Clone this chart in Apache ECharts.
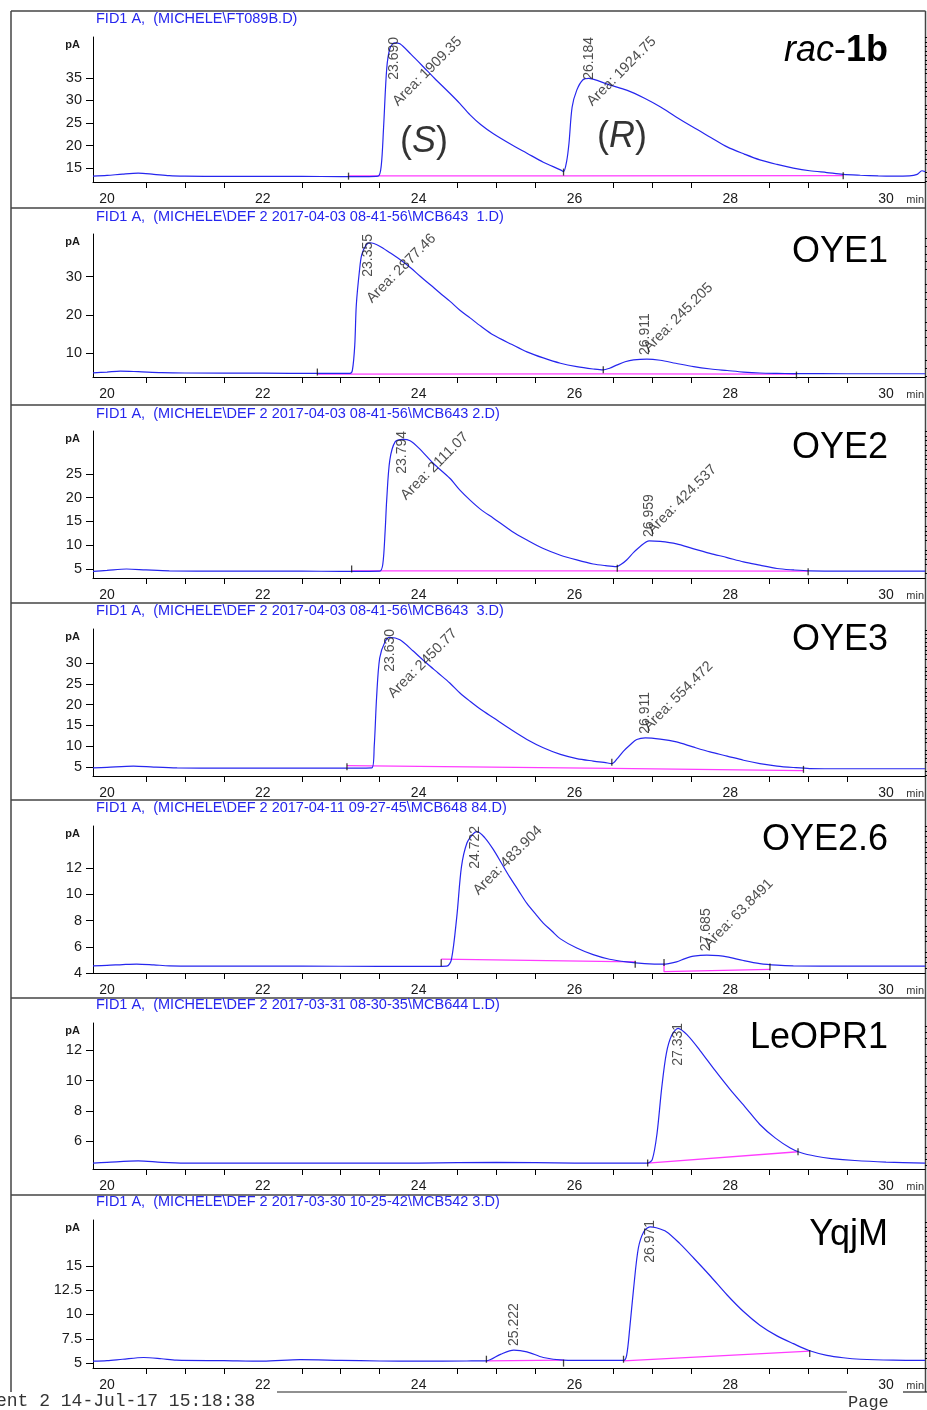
<!DOCTYPE html>
<html>
<head>
<meta charset="utf-8">
<title>GC traces</title>
<script src="https://cdn.jsdelivr.net/npm/echarts@6/dist/echarts.min.js"></script>
<style>
  html, body { margin: 0; padding: 0; background: #fff; }
  #main { width: 927px; height: 1410px; }
</style>
</head>
<body>
<div id="main"></div>
<script>
// ---- data ----
const xLabels = [20, 22, 24, 26, 28, 30];
const xMinorTicks = [20.5, 21, 21.5, 22.5, 23, 23.5, 24.5, 25, 25.5, 26.5, 27, 27.5, 28.5, 29, 29.5];

const panelNames = ['{i|rac}-{b|1b}', 'OYE1', 'OYE2', 'OYE3', 'OYE2.6', 'LeOPR1', 'YqjM'];
const fileTitles = [
  'FID1 A,  (MICHELE\\FT089B.D)',
  'FID1 A,  (MICHELE\\DEF 2 2017-04-03 08-41-56\\MCB643  1.D)',
  'FID1 A,  (MICHELE\\DEF 2 2017-04-03 08-41-56\\MCB643 2.D)',
  'FID1 A,  (MICHELE\\DEF 2 2017-04-03 08-41-56\\MCB643  3.D)',
  'FID1 A,  (MICHELE\\DEF 2 2017-04-11 09-27-45\\MCB648 84.D)',
  'FID1 A,  (MICHELE\\DEF 2 2017-03-31 08-30-35\\MCB644 L.D)',
  'FID1 A,  (MICHELE\\DEF 2 2017-03-30 10-25-42\\MCB542 3.D)'
];

const yLabels = [
  [15, 20, 25, 30, 35],
  [10, 20, 30],
  [5, 10, 15, 20, 25],
  [5, 10, 15, 20, 25, 30],
  [4, 6, 8, 10, 12],
  [6, 8, 10, 12],
  [5, 7.5, 10, 12.5, 15]
];
const yMinorStep = [1, 2, 1, 1, 0.4, 0.4, 0.5];
const yMin = [11.9, 3.7, 3.1, 2.8, 4.0, 4.16, 4.5];
const yMax = [44.1, 41.2, 34.05, 38.2, 15.2, 13.8, 19.7];
const xMin = 19.82, xMax = 30.5;

const traceRac1b = [[19.82,13.2],[20.0,13.35],[20.2,13.65],[20.4,13.85],[20.6,13.6],[20.8,13.3],[21.0,13.2],[21.5,13.15],[22.0,13.15],[22.5,13.15],[23.0,13.1],[23.3,13.1],[23.48,13.2],[23.52,15.5],[23.55,24],[23.59,37],[23.63,41.5],[23.69,42.8],[23.76,42.6],[23.9,40.3],[24.06,37.5],[24.2,35.0],[24.4,31.6],[24.53,29.3],[24.66,26.8],[24.8,24.6],[24.96,22.6],[25.2,20.1],[25.39,18.3],[25.6,16.3],[25.82,14.6],[25.86,14.2],[25.9,16.5],[25.93,20.5],[25.97,28.5],[26.03,32.3],[26.11,34.6],[26.184,34.9],[26.3,34.4],[26.46,33.4],[26.67,32.3],[26.9,30.5],[27.1,28.6],[27.3,26.4],[27.52,24.1],[27.75,21.8],[27.96,19.7],[28.18,18.1],[28.38,16.8],[28.6,15.8],[28.81,15.0],[29.02,14.4],[29.24,14.0],[29.45,13.6],[29.67,13.4],[29.9,13.25],[30.09,13.2],[30.3,13.25],[30.4,13.6],[30.46,14.4],[30.5,14.2]];
const traceOYE1 = [[19.82,4.8],[20.0,5.0],[20.17,5.25],[20.4,5.1],[20.7,4.85],[21.0,4.75],[22.0,4.7],[22.7,4.65],[23.12,4.65],[23.15,5.5],[23.18,12],[23.2,22.6],[23.24,31.5],[23.27,35.8],[23.33,38.4],[23.38,38.9],[23.5,38.0],[23.63,36.3],[23.76,34.5],[23.9,32.3],[24.02,30.1],[24.15,27.9],[24.27,25.8],[24.4,23.6],[24.53,21.2],[24.66,19.2],[24.8,17.0],[24.96,14.7],[25.2,12.2],[25.39,10.3],[25.6,8.7],[25.82,7.3],[26.03,6.4],[26.24,5.8],[26.37,5.55],[26.45,6.0],[26.54,6.8],[26.65,7.7],[26.76,8.2],[26.93,8.4],[27.1,8.1],[27.3,7.3],[27.53,6.4],[27.75,5.8],[27.96,5.4],[28.17,5.0],[28.38,4.75],[28.6,4.65],[28.81,4.6],[29.5,4.55],[30.5,4.55]];
const traceOYE2 = [[19.82,4.5],[20.0,4.7],[20.25,5.0],[20.5,4.8],[20.8,4.6],[21.5,4.55],[22.5,4.55],[23.0,4.5],[23.5,4.55],[23.54,6],[23.57,13],[23.59,19.5],[23.63,27.9],[23.7,31.8],[23.8,32.3],[23.89,32.0],[24.0,30.5],[24.19,27.2],[24.4,24.1],[24.53,21.6],[24.66,19.5],[24.8,17.5],[24.96,15.7],[25.2,12.9],[25.39,11.1],[25.6,9.3],[25.82,7.9],[26.03,6.9],[26.24,6.05],[26.4,5.7],[26.54,5.5],[26.6,6.0],[26.67,6.9],[26.76,8.5],[26.84,9.7],[26.96,10.9],[27.1,10.8],[27.31,10.3],[27.52,9.3],[27.74,8.3],[27.96,7.4],[28.17,6.5],[28.38,5.8],[28.6,5.1],[28.81,4.8],[29.02,4.6],[29.5,4.55],[30.5,4.55]];
const traceOYE3 = [[19.82,4.75],[20.0,4.9],[20.34,5.2],[20.6,4.95],[20.9,4.75],[21.5,4.7],[22.5,4.7],[23.0,4.7],[23.4,4.75],[23.43,10],[23.46,21.6],[23.5,31.2],[23.57,35.2],[23.63,36.2],[23.76,35.6],[23.93,32.9],[24.1,30.0],[24.25,27.6],[24.4,25.2],[24.53,22.8],[24.66,20.8],[24.8,18.8],[24.96,16.8],[25.2,13.8],[25.39,11.6],[25.6,9.6],[25.82,8.0],[26.03,7.0],[26.24,6.4],[26.4,6.0],[26.48,5.8],[26.55,7.0],[26.63,8.8],[26.72,10.4],[26.8,11.6],[26.91,12.0],[27.1,11.7],[27.31,11.0],[27.52,9.8],[27.74,8.6],[27.96,7.6],[28.17,6.6],[28.38,5.8],[28.6,5.2],[28.81,4.85],[29.02,4.6],[29.5,4.55],[30.5,4.55]];
const traceOYE26 = [[19.82,4.55],[20.0,4.58],[20.2,4.64],[20.38,4.68],[20.6,4.62],[20.8,4.55],[21.5,4.52],[22.5,4.53],[23.5,4.5],[24.2,4.5],[24.36,4.52],[24.42,5.0],[24.49,8.3],[24.55,12.1],[24.62,13.9],[24.7,14.6],[24.75,14.77],[24.85,14.3],[24.96,13.4],[25.07,12.3],[25.17,11.3],[25.28,10.3],[25.39,9.3],[25.5,8.5],[25.6,7.8],[25.71,7.2],[25.82,6.6],[26.03,5.9],[26.24,5.4],[26.45,5.05],[26.67,4.85],[26.9,4.72],[27.14,4.67],[27.31,4.85],[27.42,5.1],[27.53,5.28],[27.7,5.36],[27.85,5.32],[27.96,5.23],[28.17,4.95],[28.38,4.72],[28.6,4.6],[28.81,4.55],[29.5,4.52],[30.5,4.52]];
const traceLeOPR1 = [[19.82,4.55],[20.0,4.6],[20.4,4.7],[20.7,4.6],[21.0,4.55],[22.0,4.55],[23.0,4.55],[24.0,4.55],[25.0,4.6],[26.0,4.55],[26.94,4.55],[27.0,4.8],[27.06,6.5],[27.12,9.5],[27.18,11.8],[27.25,13.0],[27.331,13.45],[27.45,13.0],[27.61,12.0],[27.8,10.7],[28.0,9.4],[28.2,8.2],[28.38,7.1],[28.58,6.2],[28.77,5.55],[28.9,5.25],[29.1,5.0],[29.3,4.85],[29.6,4.72],[30.0,4.62],[30.5,4.55]];
const traceYqjM = [[19.82,5.2],[20.0,5.25],[20.2,5.4],[20.47,5.58],[20.7,5.45],[20.89,5.3],[21.5,5.25],[22.0,5.2],[22.48,5.35],[23.0,5.28],[23.5,5.22],[24.0,5.2],[24.62,5.22],[24.87,5.24],[25.05,5.9],[25.222,6.34],[25.39,6.16],[25.6,5.58],[25.86,5.31],[26.2,5.28],[26.63,5.28],[26.67,5.8],[26.71,8.6],[26.76,12.7],[26.82,16.8],[26.89,18.5],[26.97,19.0],[27.05,18.9],[27.18,18.5],[27.35,17.3],[27.53,15.8],[27.75,13.9],[27.96,12.0],[28.17,10.3],[28.38,8.9],[28.6,7.8],[28.81,7.0],[29.02,6.27],[29.24,5.8],[29.45,5.55],[29.67,5.4],[30.09,5.3],[30.5,5.28]];

// integration baselines (pink) and peak start/end marks
const baseRac1b = [[[23.10,13.25],[25.86,13.25]], [[25.86,13.25],[29.45,13.3]]];
const baseOYE1 = [[[22.70,4.45],[26.37,4.5]], [[26.37,4.5],[28.85,4.45]]];
const baseOYE2 = [[[23.14,4.6],[26.55,4.58]], [[26.55,4.58],[29.0,4.55]]];
const baseOYE3 = [[[23.08,5.3],[26.48,4.65]], [[26.48,4.65],[28.94,4.1]]];
const baseOYE26 = [[[24.29,5.05],[26.78,4.85]], [[27.15,4.75],[27.15,4.1],[28.51,4.27]]];
const baseLeOPR1 = [[[26.94,4.55],[28.87,5.3]]];
const baseYqjM = [[[24.87,5.24],[25.86,5.3]], [[26.63,5.24],[29.02,6.24]]];

const cutsRac1b = [[23.10,13.2],[25.86,14.1],[29.45,13.3]];
const cutsOYE1 = [[22.70,5.0],[26.37,5.6],[28.85,4.2]];
const cutsOYE2 = [[23.14,5.0],[26.55,5.15],[29.0,4.4]];
const cutsOYE3 = [[23.08,5.0],[26.48,6.1],[28.94,4.4]];
const cutsOYE26 = [[24.29,4.78],[26.78,4.67],[27.15,4.8],[28.51,4.45]];
const cutsLeOPR1 = [[26.94,4.55],[28.87,5.3]];
const cutsYqjM = [[24.87,5.4],[25.86,5.0],[26.63,5.4],[29.02,6.0]];

// [retention time label, retention time, apex height, area label]
const peaksRac1b = [['23.690',23.69,42.8,'Area: 1909.35'], ['26.184',26.184,34.9,'Area: 1924.75']];
const peaksOYE1 = [['23.355',23.355,38.9,'Area: 2877.46'], ['26.911',26.911,8.4,'Area: 245.205']];
const peaksOYE2 = [['23.794',23.794,32.3,'Area: 2111.07'], ['26.959',26.959,10.9,'Area: 424.537']];
const peaksOYE3 = [['23.630',23.63,36.2,'Area: 2450.77'], ['26.911',26.911,12.0,'Area: 554.472']];
const peaksOYE26 = [['24.722',24.722,14.77,'Area: 483.904'], ['27.685',27.685,5.36,'Area: 63.8491']];
const peaksLeOPR1 = [['27.331',27.331,13.45,null]];
const peaksYqjM = [['25.222',25.222,6.34,null], ['26.971',26.971,19.0,null]];

const stereoRac1b = [[24.07,20.8,'S'], [26.61,21.96,'R']];

const traces = [traceRac1b, traceOYE1, traceOYE2, traceOYE3, traceOYE26, traceLeOPR1, traceYqjM];
const baselines = [baseRac1b, baseOYE1, baseOYE2, baseOYE3, baseOYE26, baseLeOPR1, baseYqjM];
const cuts = [cutsRac1b, cutsOYE1, cutsOYE2, cutsOYE3, cutsOYE26, cutsLeOPR1, cutsYqjM];
const peaks = [peaksRac1b, peaksOYE1, peaksOYE2, peaksOYE3, peaksOYE26, peaksLeOPR1, peaksYqjM];

// ---- layout ----
const W = 927;
const gridLeft = 93, gridRight = 2;
const gridTop = [37, 234, 431, 629, 826, 1023, 1220];
const gridHeight = [145, 143, 147, 147, 147, 146, 148];
const fileTitleTop = [11, 209, 406, 603, 800, 997, 1194];
const nameTop = [31, 232, 428, 620, 820, 1018, 1215];
const panelRules = [208, 405, 603, 800, 998, 1195];

const FONT = '"Liberation Sans", Arial, sans-serif';
const BLUE = '#2626ee';
const PINK = '#ff3cff';
const INK = '#1a1a1a';
const pxPerMin = (W - gridLeft - gridRight) / (xMax - xMin);

function minorTicks(min, max, step, majors) {
  const out = [];
  for (let k = Math.ceil(min / step - 1e-9); k * step <= max + 1e-9; k++) {
    const v = Math.round(k * step * 1000) / 1000;
    if (!majors.includes(v)) out.push(v);
  }
  return out;
}

const grid = [], xAxis = [], yAxis = [], series = [], title = [];

traces.forEach((trace, i) => {
  grid.push({ left: gridLeft, right: gridRight, top: gridTop[i], height: gridHeight[i], outerBoundsMode: 'none' });

  xAxis.push({
    type: 'value', gridIndex: i, min: xMin, max: xMax,
    name: 'min', nameLocation: 'end', nameGap: -1, nameMoveOverlap: false,
    nameTextStyle: { align: 'right', verticalAlign: 'top', padding: [12, 0, 0, 0], fontSize: 11, color: '#333', fontFamily: FONT },
    axisLine: { onZero: false, lineStyle: { color: '#000', width: 1 } },
    axisTick: { customValues: xMinorTicks, length: 6, lineStyle: { color: '#000' } },
    axisLabel: { customValues: xLabels, fontSize: 14, color: INK, margin: 10, fontFamily: FONT },
    splitLine: { show: false }
  });

  yAxis.push({
    type: 'value', gridIndex: i, min: yMin[i], max: yMax[i],
    name: 'pA', nameLocation: 'end', nameGap: -8, nameMoveOverlap: false,
    nameTextStyle: { align: 'right', verticalAlign: 'middle', padding: [0, 13, 0, 0], fontSize: 11, fontWeight: 'bold', color: INK, fontFamily: FONT },
    axisLine: { lineStyle: { color: '#000', width: 1 } },
    axisTick: { customValues: yLabels[i], length: 7, lineStyle: { color: '#000' } },
    axisLabel: { customValues: yLabels[i], fontSize: 14.5, color: INK, margin: 11, fontFamily: FONT },
    splitLine: { show: false }
  });
  yAxis.push({
    type: 'value', gridIndex: i, min: yMin[i], max: yMax[i],
    axisLine: { show: false },
    axisTick: { customValues: minorTicks(yMin[i], yMax[i], yMinorStep[i], yLabels[i]), length: 4, lineStyle: { color: '#000' } },
    axisLabel: { show: false },
    splitLine: { show: false }
  });

  const yi = 2 * i;
  series.push({
    type: 'line', xAxisIndex: i, yAxisIndex: yi, data: trace,
    showSymbol: false, smooth: 0.3,
    lineStyle: { color: BLUE, width: 1.2 }, z: 3, silent: true
  });
  baselines[i].forEach(seg => {
    series.push({
      type: 'line', xAxisIndex: i, yAxisIndex: yi, data: seg,
      showSymbol: false, lineStyle: { color: PINK, width: 1.3 }, z: 2, silent: true
    });
  });
  series.push({
    type: 'scatter', xAxisIndex: i, yAxisIndex: yi, data: cuts[i],
    symbol: 'rect', symbolSize: [1.3, 7], itemStyle: { color: '#111' }, z: 4, silent: true
  });

  // peak annotations: retention time vertical, area at 45 degrees
  const u = (yMax[i] - yMin[i]) / gridHeight[i];
  const labels = [];
  peaks[i].forEach(([rtText, rt, apex, area]) => {
    const up = apex + 50 * u <= yMax[i];
    labels.push({
      value: [rt, up ? apex + 4 * u : yMax[i]],
      label: { show: true, formatter: rtText, rotate: 90, position: 'inside',
               align: up ? 'left' : 'right', verticalAlign: 'middle',
               fontSize: 14, color: '#222', fontFamily: FONT }
    });
    if (area) {
      labels.push({
        value: [rt + 6 / pxPerMin, Math.min(apex + 4 * u, yMax[i] - 72 * u)],
        label: { show: true, formatter: area, rotate: 45, position: 'inside',
                 align: 'left', verticalAlign: 'bottom',
                 fontSize: 14.5, color: '#222', fontFamily: FONT }
      });
    }
  });
  series.push({
    type: 'scatter', xAxisIndex: i, yAxisIndex: yi, data: labels,
    symbolSize: 0, z: 5, silent: true
  });

  title.push({
    text: fileTitles[i], left: 96, top: fileTitleTop[i], padding: 0,
    textStyle: { fontSize: 14.5, lineHeight: 16, color: BLUE, fontWeight: 'normal', fontFamily: FONT }
  });
  title.push({
    text: panelNames[i], right: 39, top: nameTop[i], padding: 0,
    textStyle: {
      fontSize: 36, lineHeight: 40, color: '#000', fontWeight: 'normal', fontFamily: FONT,
      rich: {
        i: { fontSize: 36, fontStyle: 'italic', fontFamily: FONT, color: '#000' },
        b: { fontSize: 36, fontWeight: 'bold', fontFamily: FONT, color: '#000' }
      }
    }
  });
});

// (S) / (R) tags on the racemate trace
series.push({
  type: 'scatter', xAxisIndex: 0, yAxisIndex: 0, symbolSize: 0, z: 5, silent: true,
  data: stereoRac1b.map(d => ({
    value: [d[0], d[1]],
    label: { show: true, position: 'inside', formatter: '({i|' + d[2] + '})',
             fontSize: 36, color: '#000', fontFamily: FONT,
             rich: { i: { fontSize: 36, fontStyle: 'italic', color: '#000', fontFamily: FONT } } }
  }))
});

// frame, separators, printout footer
const frame = { stroke: '#444', lineWidth: 1.5 };
const graphic = [
  { type: 'line', shape: { x1: 11, y1: 11, x2: 925.5, y2: 11 }, style: frame, silent: true },
  { type: 'line', shape: { x1: 11, y1: 11, x2: 11, y2: 1392 }, style: frame, silent: true },
  { type: 'line', shape: { x1: 925.5, y1: 11, x2: 925.5, y2: 1392 }, style: frame, silent: true },
  { type: 'line', shape: { x1: 277, y1: 1392, x2: 847, y2: 1392 }, style: { stroke: '#222', lineWidth: 1.2 }, silent: true },
  { type: 'line', shape: { x1: 903, y1: 1392, x2: 927, y2: 1392 }, style: { stroke: '#222', lineWidth: 1.2 }, silent: true },
  { type: 'text', left: -4, top: 1392, silent: true,
    style: { text: 'ent 2 14-Jul-17 15:18:38', font: '18px "Liberation Mono", monospace', fill: '#333' } },
  { type: 'text', left: 848, top: 1394, silent: true,
    style: { text: 'Page', font: '17px "Liberation Mono", monospace', fill: '#333' } }
];
panelRules.forEach(y => {
  graphic.push({ type: 'line', shape: { x1: 11, y1: y, x2: 925.5, y2: y }, style: frame, silent: true });
});

const chart = echarts.init(document.getElementById('main'), null, { renderer: 'canvas' });
chart.setOption({
  animation: false,
  backgroundColor: '#fff',
  textStyle: { fontFamily: FONT },
  title: title,
  grid: grid,
  xAxis: xAxis,
  yAxis: yAxis,
  series: series,
  graphic: graphic
});
</script>
</body>
</html>
